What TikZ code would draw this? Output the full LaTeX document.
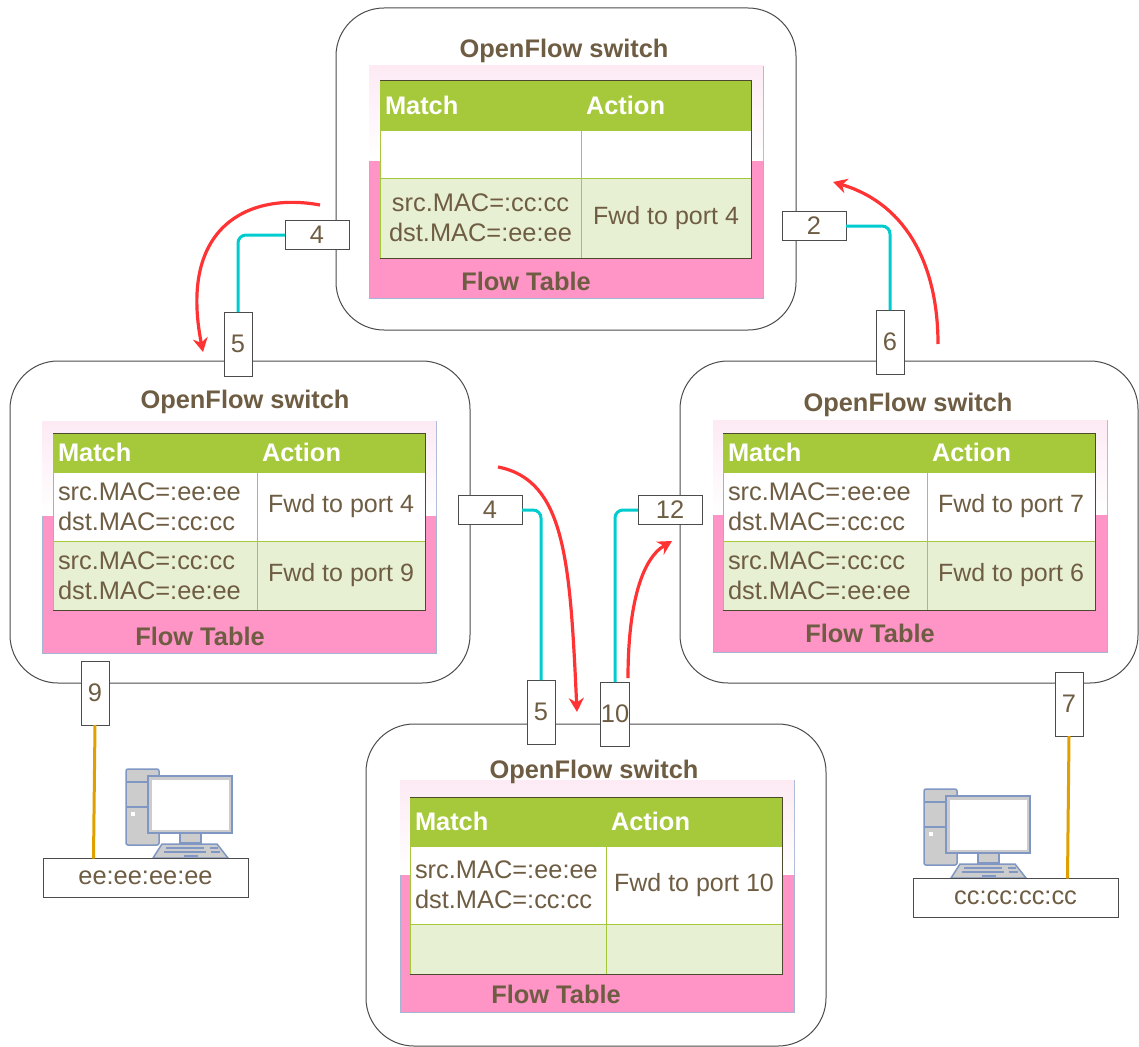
\documentclass[tikz,border=0pt]{standalone}
\usepackage{fontspec}
\setmainfont{Liberation Sans}
\usetikzlibrary{calc}
\usetikzlibrary{arrows.meta}
\usetikzlibrary{positioning}
\definecolor{txtbrown}{HTML}{6E5D43}
\definecolor{headgreen}{HTML}{A6C93C}
\definecolor{rowgreen}{HTML}{E8F0D4}
\definecolor{panelpink}{HTML}{FF94C6}
\definecolor{fadepink}{HTML}{FDEAF4}
\definecolor{pcblue}{HTML}{7F97C2}

\begin{document}
\begin{tikzpicture}[
        x=1pt,y=-1pt,
        node distance=0pt,
        every node/.append style={font=\fontsize{25.4}{30}\selectfont,text=txtbrown,outer sep=0pt},
        switchbox/.style={draw=black!70,fill=white,line width=1pt,rounded corners=48pt,minimum width=460pt,minimum height=322pt,anchor=north west},
        flowpanel/.style={draw=pcblue!70,fill=panelpink,line width=.8pt,minimum width=394pt,minimum height=232pt,anchor=north west},
        panelfade/.style={top color=fadepink,bottom color=white},
        title/.style={font=\fontsize{25.4}{30}\selectfont\bfseries},
        cell/.style={draw=headgreen,line width=.8pt,inner xsep=5pt,inner ysep=0pt,align=left},
        headcell/.style={cell,fill=headgreen,font=\fontsize{25.4}{30}\selectfont\bfseries,text=white,minimum height=#1},
        plaincell/.style={cell,fill=white,minimum height=#1},
        greencell/.style={cell,fill=rowgreen,minimum height=#1},
        fwd/.style={align=flush center,font=\fontsize{25}{30}\selectfont},
        tableframe/.style={draw=black!60!olive,line width=1pt},
        portbox/.style={draw=black!70,fill=white,line width=1pt,inner sep=0pt},
        wideport/.style={portbox,minimum width=64pt,minimum height=29pt},
        tallport/.style={portbox,minimum width=28pt,minimum height=64pt},
        hostbox/.style={draw=black!70,fill=white,line width=1pt,minimum width=205pt,minimum height=39pt},
        cyanlink/.style={draw={rgb,255:red,0;green,204;blue,208},line width=3pt,rounded corners=8pt},
        goldlink/.style={draw={rgb,255:red,224;green,160;blue,0},line width=3pt},
        redflow/.style={draw={rgb,255:red,255;green,51;blue,51},line width=3.2pt,-{Stealth[length=14pt,width=15pt]}}
    ]
        \clip (0,0) rectangle (1139,1046);

        % computers
        \foreach \hx/\hy in {126/769,924/789}{
            \begin{scope}[shift={(\hx,\hy)},draw=pcblue,line width=1.5pt,fill=black!20]
                \filldraw[rounded corners=2pt] (0,0) rectangle (33,76);
                \draw (0,13) -- (33,13);
                \draw (0,38) -- (33,38);
                \fill[white] (5,43) rectangle (9,47);
                \filldraw (54,64) rectangle (75,74);
                \filldraw (27,89) -- (36,75) -- (91,75) -- (102,89) -- cycle;
                \draw (40,79) -- (78,79);
                \draw (38,83) -- (80,83);
                \draw (58,87) -- (72,87);
                \draw (84,79) -- (92,79);
                \draw (85,83) -- (94,83);
                \filldraw (22,7) rectangle (106,64);
                \fill[white] (25.5,10.5) rectangle (102.5,60.5);
            \end{scope}
        }

        % top switch
        \node[switchbox] (swtop) at (336,8) {};
        \node[title] (ttop) at (564,51) {OpenFlow switch};
        \node[flowpanel] (ptop) at (369,66) {};
        \shade[panelfade] (ptop.north west) rectangle ([yshift=-94pt]ptop.north east);
        \node[headcell=49pt,text width=191pt,anchor=north west] (mtop) at (380,81) {Match};
        \node[headcell=49pt,text width=160pt,right=of mtop] (atop) {Action};
        \node[plaincell=48pt,text width=191pt,below=of mtop] (m1top) {};
        \node[plaincell=48pt,text width=160pt,below=of atop] (a1top) {};
        \node[greencell=80pt,text width=191pt,align=flush center,below=of m1top] (m2top) {src.MAC=:cc:cc\\dst.MAC=:ee:ee};
        \node[greencell=80pt,text width=160pt,fwd,below=of a1top] (a2top) {Fwd to port 4};
        \draw[tableframe] (mtop.north west) -| (a2top.south east) -- (m2top.south west);
        \node[title] (ftop) at (526,281) {Flow Table};

        % left switch
        \node[switchbox] (swleft) at (10,361) {};
        \node[title] (tleft) at (245,402) {OpenFlow switch};
        \node[flowpanel] (pleft) at (42,421) {};
        \shade[panelfade] (pleft.north west) rectangle ([yshift=-94pt]pleft.north east);
        \node[headcell=39pt,text width=194pt,anchor=north west] (mleft) at (53,433) {Match};
        \node[headcell=39pt,text width=158pt,right=of mleft] (aleft) {Action};
        \node[plaincell=69pt,text width=194pt,below=of mleft] (m1left) {src.MAC=:ee:ee\\dst.MAC=:cc:cc};
        \node[plaincell=69pt,text width=158pt,fwd,below=of aleft] (a1left) {Fwd to port 4};
        \node[greencell=69pt,text width=194pt,below=of m1left] (m2left) {src.MAC=:cc:cc\\dst.MAC=:ee:ee};
        \node[greencell=69pt,text width=158pt,fwd,below=of a1left] (a2left) {Fwd to port 9};
        \draw[tableframe] (mleft.north west) -| (a2left.south east) -- (m2left.south west);
        \node[title] (fleft) at (200,636) {Flow Table};

        % right switch
        \node[switchbox,minimum width=458pt] (swright) at (680,361) {};
        \node[title] (tright) at (908,405) {OpenFlow switch};
        \node[flowpanel] (pright) at (713,420) {};
        \shade[panelfade] (pright.north west) rectangle ([yshift=-94pt]pright.north east);
        \node[headcell=39pt,text width=194pt,anchor=north west] (mright) at (723,433) {Match};
        \node[headcell=39pt,text width=158pt,right=of mright] (aright) {Action};
        \node[plaincell=69pt,text width=194pt,below=of mright] (m1right) {src.MAC=:ee:ee\\dst.MAC=:cc:cc};
        \node[plaincell=69pt,text width=158pt,fwd,below=of aright] (a1right) {Fwd to port 7};
        \node[greencell=69pt,text width=194pt,below=of m1right] (m2right) {src.MAC=:cc:cc\\dst.MAC=:ee:ee};
        \node[greencell=69pt,text width=158pt,fwd,below=of a1right] (a2right) {Fwd to port 6};
        \draw[tableframe] (mright.north west) -| (a2right.south east) -- (m2right.south west);
        \node[title] (fright) at (870,633) {Flow Table};

        % bottom switch
        \node[switchbox] (swbot) at (366,724) {};
        \node[flowpanel] (pbot) at (400,780) {};
        \shade[panelfade] (pbot.north west) rectangle ([yshift=-94pt]pbot.north east);
        \node[title] (tbot) at (594,772) {OpenFlow switch};
        \node[headcell=49pt,text width=186pt,anchor=north west] (mbot) at (410,797) {Match};
        \node[headcell=49pt,text width=166pt,right=of mbot] (abot) {Action};
        \node[plaincell=78pt,text width=186pt,below=of mbot] (m1bot) {src.MAC=:ee:ee\\dst.MAC=:cc:cc};
        \node[plaincell=78pt,text width=166pt,fwd,below=of abot] (a1bot) {Fwd to port 10};
        \node[greencell=50pt,text width=186pt,below=of m1bot] (m2bot) {};
        \node[greencell=50pt,text width=166pt,below=of a1bot] (a2bot) {};
        \draw[tableframe] (mbot.north west) -| (a2bot.south east) -- (m2bot.south west);
        \node[title] (fbot) at (556,994) {Flow Table};

        % ports
        \node[wideport] (ptopl) at (317,235) {4};
        \node[wideport] (ptopr) at (814,226) {2};
        \node[tallport] (pleftt) at (238,344) {5};
        \node[tallport] (prightt) at (890,342) {6};
        \node[wideport] (pleftr) at (490,510) {4};
        \node[wideport] (prightl) at (670,510) {12};
        \node[tallport] (pleftb) at (95,693) {9};
        \node[tallport] (prightb) at (1069,704) {7};
        \node[tallport] (pbotl) at (541,712) {5};
        \node[tallport] (pbotr) at (615,714) {10};

        % hosts
        \node[hostbox] (hostee) at (145.5,878) {ee:ee:ee:ee};
        \node[hostbox] (hostcc) at (1015.5,898) {cc:cc:cc:cc};

        % links
        \draw[cyanlink] (ptopl.west) -| (pleftt.north);
        \draw[cyanlink] (ptopr.east) -| (prightt.north);
        \draw[cyanlink] (pleftr.east) -| (pbotl.north);
        \draw[cyanlink] (prightl.west) -| (pbotr.north);
        \draw[goldlink] (pleftb.south) -- ([xshift=-52pt]hostee.north);
        \draw[goldlink] (prightb.south) -- ([xshift=52pt]hostcc.north);

        % flows
        \coordinate (fl1a) at (320,205);
        \coordinate (fl1b) at (203,352);
        \coordinate (fl2a) at (938,344);
        \coordinate (fl2b) at (833,182);
        \coordinate (fl3a) at (498,467);
        \coordinate (fl3b) at (577,712);
        \coordinate (fl4a) at (628,678);
        \coordinate (fl4b) at (672,541);
        \draw[redflow] (fl1a) .. controls (250,192) and (178,225) .. (fl1b);
        \draw[redflow] (fl2a) .. controls (938,270) and (910,205) .. (fl2b);
        \draw[redflow] (fl3a) .. controls (565,480) and (570,560) .. (fl3b);
        \draw[redflow] (fl4a) .. controls (628,610) and (640,560) .. (fl4b);
    \end{tikzpicture}
\end{document}
